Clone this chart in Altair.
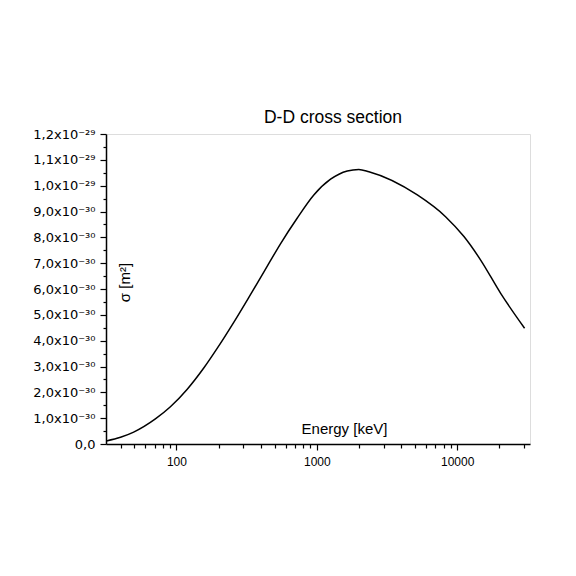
import json
import altair as alt
import pandas as pd

# D-D fusion cross section vs. deuteron energy
energy_kev = [31.7, 40, 49.6, 70.8, 90.6, 119, 157, 195, 256, 346, 419, 551, 724, 952,
              1253, 1648, 1991, 2350, 5200, 8260, 11170, 14690, 20400, 30200]
sigma_1e30 = [0.12, 0.26, 0.46, 0.97, 1.44, 2.11, 2.95, 3.70, 4.71, 5.89, 6.65, 7.75, 8.74, 9.64,
              10.25, 10.57, 10.63, 10.54, 9.64, 8.80, 8.03, 7.12, 5.83, 4.48]

# axis ticks: labelled decades plus minor ticks on the log axis
x_major = [100, 1000, 10000]
x_major_labels = ["100", "1000", "10000"]
x_minor = [40, 50, 60, 70, 80, 90,
           200, 300, 400, 500, 600, 700, 800, 900,
           2000, 3000, 4000, 5000, 6000, 7000, 8000, 9000,
           20000, 30000]

y_major_labels = ["0,0",
                  "1,0x10⁻³⁰", "2,0x10⁻³⁰", "3,0x10⁻³⁰", "4,0x10⁻³⁰",
                  "5,0x10⁻³⁰", "6,0x10⁻³⁰", "7,0x10⁻³⁰", "8,0x10⁻³⁰",
                  "9,0x10⁻³⁰", "1,0x10⁻²⁹", "1,1x10⁻²⁹", "1,2x10⁻²⁹"]
# half-unit steps of 1e-30 m², parsed from text so the top tick equals the domain end
y_ticks = [float(f"{i * 0.5}e-30") for i in range(25)]

FONT = "Liberation Sans"
LABEL_FONT = "DejaVu Sans"

df = pd.DataFrame({
    "energy": energy_kev,
    "sigma": [v * 1e-30 for v in sigma_1e30],
})

x_label_expr = " : ".join(
    f"datum.value == {v} ? '{lab}'" for v, lab in zip(x_major, x_major_labels)
) + " : ''"
x_major_test = " || ".join(f"datum.value == {v}" for v in x_major)

y_major_test = "abs(datum.value * 1e30 - round(datum.value * 1e30)) < 0.01"
y_label_expr = f"({y_major_test}) ? {json.dumps(y_major_labels, ensure_ascii=False)}[round(datum.value * 1e30)] : ''"

x_axis = alt.Axis(
    values=sorted(x_major + x_minor),
    labelExpr=x_label_expr,
    tickSize={"condition": {"test": x_major_test, "value": 6}, "value": 4},
    title="Energy [keV]",
    titleFont=FONT, titleFontSize=15, titleFontWeight="normal", titleColor="black",
    titleX=238, titleY=-16, titleBaseline="middle", titleAnchor="start", titleAlign="center",
    labelFont=FONT, labelFontSize=12, labelColor="black", labelPadding=6,
    labelOverlap=False, labelFlush=False,
    domainColor="black", domainWidth=1.5, tickColor="black", tickWidth=1.2,
    grid=False,
)

y_axis = alt.Axis(
    values=y_ticks,
    labelExpr=y_label_expr,
    tickSize={"condition": {"test": y_major_test, "value": 6}, "value": 3},
    title="σ [m²]",
    titleFont=FONT, titleFontSize=15, titleFontWeight="normal", titleColor="black",
    titleAngle=-90, titleX=18, titleY=148, titleBaseline="middle", titleAlign="center",
    labelFont=LABEL_FONT, labelFontSize=13, labelColor="black", labelPadding=5,
    labelOverlap=False, labelFlush=False, labelBound=False,
    domainColor="black", domainWidth=1.5, tickColor="black", tickWidth=1.2,
    grid=False,
)

chart = (
    alt.Chart(df)
    .mark_line(color="black", strokeWidth=1.5, interpolate="monotone", clip=True)
    .encode(
        x=alt.X("energy:Q", scale=alt.Scale(type="log", domain=[31.5, 33000], nice=False), axis=x_axis),
        y=alt.Y("sigma:Q", scale=alt.Scale(domain=[0, 1.2e-29], nice=False, zero=True), axis=y_axis),
    )
    .properties(
        width=424,
        height=310,
        title=alt.TitleParams(
            "D-D cross section", font=FONT, fontSize=17.5, fontWeight="normal",
            color="black", anchor="middle", dx=15, offset=2,
        ),
        autosize=alt.AutoSizeParams(type="none"),
        padding={"left": 106, "top": 134, "right": 46, "bottom": 132},
    )
    .configure_view(stroke="transparent", strokeWidth=0)
    .configure(background="white")
)

chart.save("out.html", embed_options={"renderer": "svg", "actions": False})
